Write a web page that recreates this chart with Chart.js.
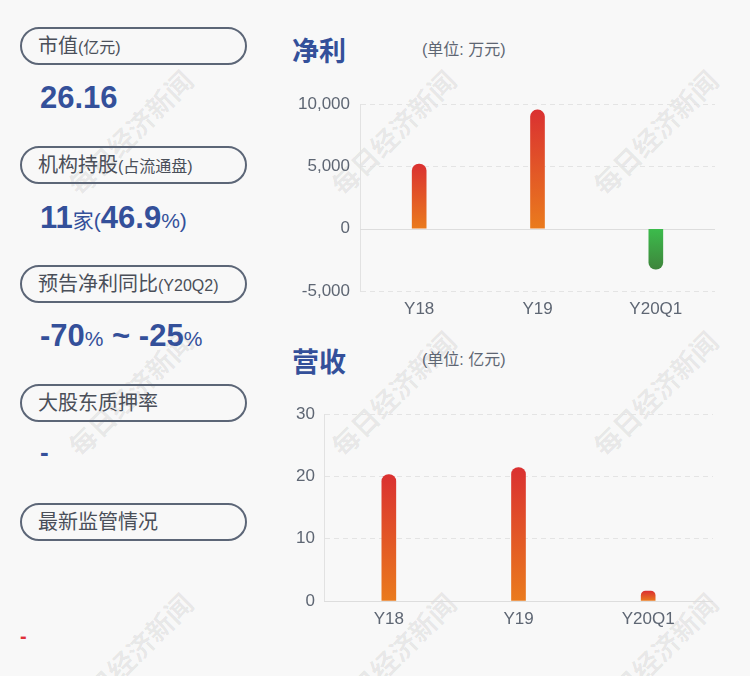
<!DOCTYPE html>
<html><head><meta charset="utf-8">
<script src="https://cdn.jsdelivr.net/npm/chart.js@4"></script>
<style>
html,body{margin:0;padding:0;}
body{width:750px;height:676px;background:#f8f8f8;position:relative;overflow:hidden;font-family:"Liberation Sans","Noto Sans CJK SC",sans-serif;}
.wm{position:absolute;width:220px;text-align:center;font-family:"Noto Sans CJK SC";font-weight:700;font-size:27px;color:rgba(0,0,0,0.075);transform:translate(-50%,-50%) rotate(-45deg);white-space:nowrap;line-height:1;z-index:0;}
.pill{position:absolute;left:20px;width:223px;height:34px;border:2px solid #5c6677;border-radius:20px;}
.pill .t{position:absolute;left:16px;top:50%;transform:translateY(-50%);font-size:20px;color:#4a4f59;white-space:nowrap;line-height:1;}
.pill .t small{font-size:16px;}
.val{position:absolute;left:40px;color:#34509a;font-weight:700;font-size:31px;white-space:nowrap;line-height:1;}
.val .s{font-size:21px;font-weight:400;}
.title{position:absolute;left:292px;font-size:27px;font-weight:700;color:#34509a;font-family:"Noto Sans CJK SC";line-height:1;}
.unit{position:absolute;left:422px;font-size:16px;color:#5e6673;line-height:1;white-space:nowrap;}
canvas{position:absolute;}
.cw{position:absolute;z-index:1;}
</style>
</head>
<body>
<div class="wm" style="left:130px;top:132px">每日经济新闻</div>
<div class="wm" style="left:393px;top:132px">每日经济新闻</div>
<div class="wm" style="left:655px;top:132px">每日经济新闻</div>
<div class="wm" style="left:130px;top:393px">每日经济新闻</div>
<div class="wm" style="left:393px;top:393px">每日经济新闻</div>
<div class="wm" style="left:655px;top:393px">每日经济新闻</div>
<div class="wm" style="left:130px;top:655px">每日经济新闻</div>
<div class="wm" style="left:393px;top:655px">每日经济新闻</div>
<div class="wm" style="left:655px;top:655px">每日经济新闻</div>

<div class="pill" style="top:27px"><span class="t">市值<small>(亿元)</small></span></div>
<div class="val" style="top:82px">26.16</div>
<div class="pill" style="top:146px"><span class="t">机构持股<small>(占流通盘)</small></span></div>
<div class="val" style="top:202px">11<span class="s">家(</span>46.9<span class="s">%)</span></div>
<div class="pill" style="top:265px"><span class="t">预告净利同比<small>(Y20Q2)</small></span></div>
<div class="val" style="top:320px">-70<span class="s">%</span> ~ -25<span class="s">%</span></div>
<div class="pill" style="top:384px"><span class="t">大股东质押率</span></div>
<div class="val" style="top:439px;font-size:26px">-</div>
<div class="pill" style="top:503px"><span class="t">最新监管情况</span></div>
<div style="position:absolute;left:20px;top:626px;font-size:20px;color:#e0303a;font-weight:700;line-height:1">-</div>

<div class="title" style="top:36px">净利</div>
<div class="unit" style="top:42px">(单位: 万元)</div>
<div class="title" style="top:347px">营收</div>
<div class="unit" style="top:352px">(单位: 亿元)</div>

<div class="cw" style="left:280px;top:84px;width:460px;height:247px"><canvas id="c1"></canvas></div>
<div class="cw" style="left:280px;top:394px;width:460px;height:247px"><canvas id="c2"></canvas></div>

<script>
const categories = ['Y18', 'Y19', 'Y20Q1'];
const netProfit = [5200, 9540, -3250];      // 万元
const revenue = [20.3, 21.4, 1.6];          // 亿元
const profitTicks = [-5000, 0, 5000, 10000];
const revenueTicks = [0, 10, 20, 30];

const tickColor = '#5e6673';
const tickFont = {family: '"Liberation Sans", Arial, sans-serif', size: 17};

function barFill(ctx) {
  const chart = ctx.chart;
  const v = ctx.raw;
  if (!chart.chartArea || v === undefined) return '#e0502a';
  const y = chart.scales.y;
  const y0 = y.getPixelForValue(0), y1 = y.getPixelForValue(v);
  const g = chart.ctx.createLinearGradient(0, Math.min(y0, y1), 0, Math.max(y0, y1));
  if (v >= 0) { g.addColorStop(0, '#da3131'); g.addColorStop(1, '#ea7b1d'); }
  else { g.addColorStop(0, '#3cbc4c'); g.addColorStop(1, '#3e853c'); }
  return g;
}

const zeroLine = {
  id: 'zeroLine',
  beforeDatasetsDraw(chart) {
    const y = chart.scales.y, a = chart.chartArea, c = chart.ctx;
    const p = Math.round(y.getPixelForValue(0)) + 0.5;
    c.save();
    c.strokeStyle = '#dddddd';
    c.lineWidth = 1;
    c.beginPath(); c.moveTo(a.left, p); c.lineTo(a.right, p); c.stroke();
    c.restore();
  }
};

function makeChart(id, values, ticks, yWidth, padRight, tickPad) {
  const step = ticks[1] - ticks[0];
  return new Chart(document.getElementById(id), {
    type: 'bar',
    data: {
      labels: categories,
      datasets: [{
        data: values,
        backgroundColor: barFill,
        barThickness: 14,
        borderRadius: 7,
        borderSkipped: 'start'
      }]
    },
    plugins: [zeroLine],
    options: {
      responsive: true,
      maintainAspectRatio: false,
      animation: false,
      layout: {padding: {top: 20, right: padRight, left: 0, bottom: 0}},
      plugins: {legend: {display: false}, tooltip: {enabled: false}},
      scales: {
        x: {
          grid: {display: false},
          border: {display: false},
          ticks: {color: tickColor, font: tickFont, padding: 0},
          afterFit(s) { s.height = 40; }
        },
        y: {
          min: ticks[0], max: ticks[ticks.length - 1],
          afterBuildTicks(s) { s.ticks = ticks.map(v => ({value: v})); },
          ticks: {color: tickColor, font: tickFont, padding: tickPad, stepSize: step,
                  callback: v => v.toLocaleString('en-US')},
          grid: {drawTicks: false, color: c => (c.tick && c.tick.value === 0) ? 'rgba(0,0,0,0)' : '#e4e4e4'},
          border: {display: true, color: '#e2e2e2', dash: [5, 4]},
          afterFit(s) { s.width = yWidth; }
        }
      }
    }
  });
}

makeChart('c1', netProfit, profitTicks, 80, 25, 10);
makeChart('c2', revenue, revenueTicks, 44, 27, 9);
</script>
</body></html>
